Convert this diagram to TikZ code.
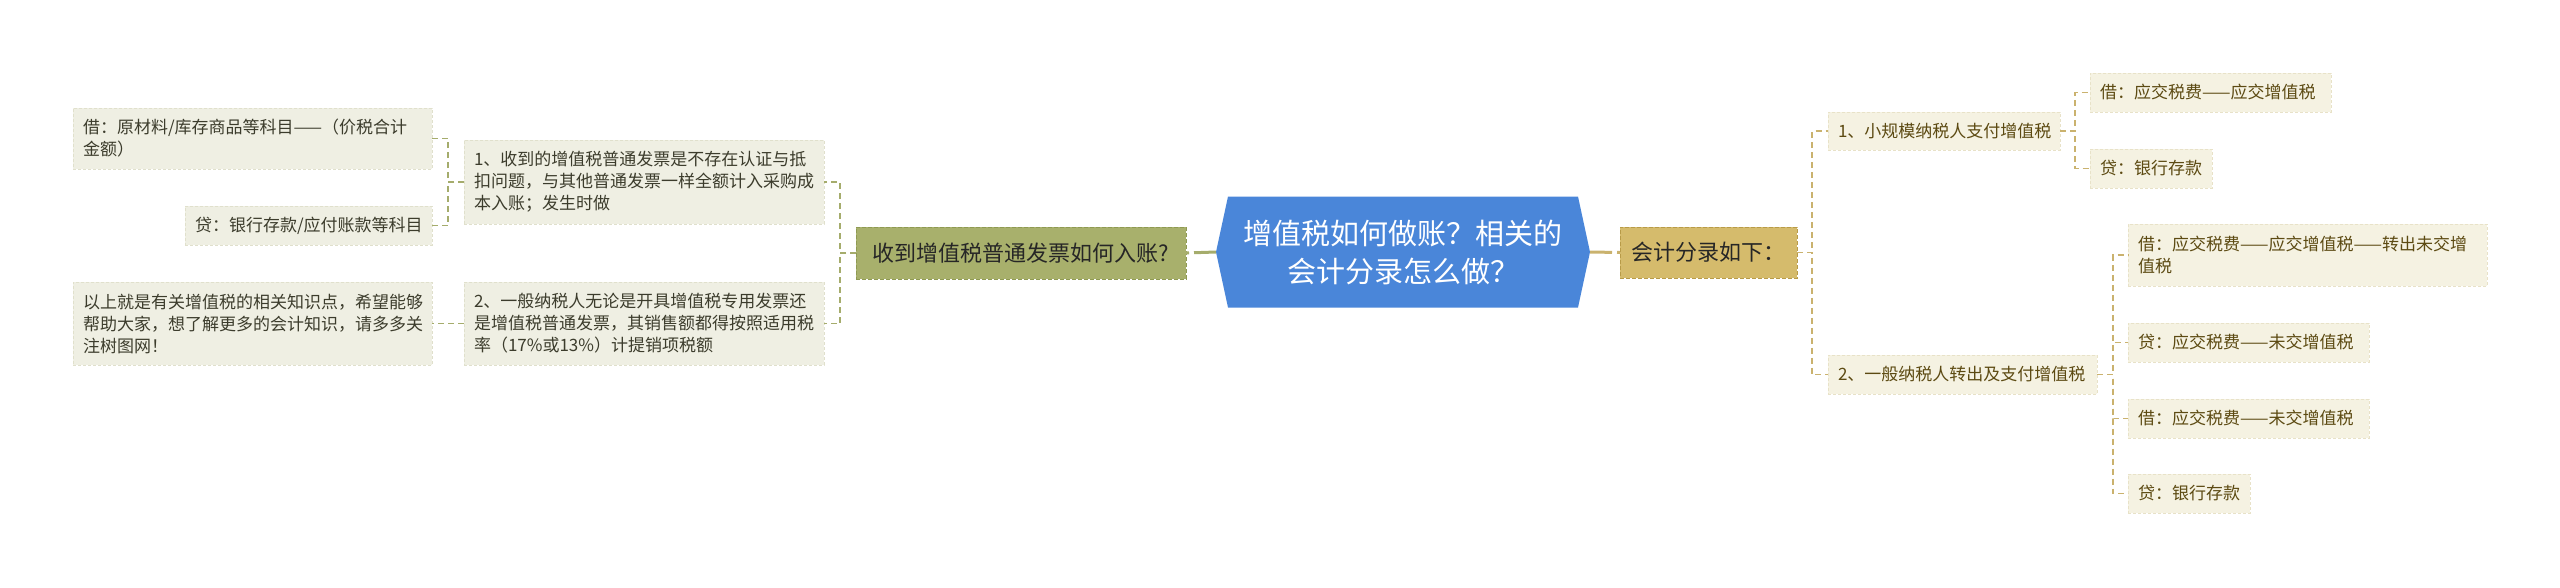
\documentclass[tikz,border=0pt]{standalone}
\usepackage{fontspec}
\setmainfont{Noto Sans CJK SC}
\usetikzlibrary{backgrounds}
\definecolor{cblue}{HTML}{4A86D9}
\definecolor{lmfill}{HTML}{A8B06C}
\definecolor{lmline}{HTML}{8F9A52}
\definecolor{rmfill}{HTML}{D5BB6C}
\definecolor{rmline}{HTML}{B89B48}
\definecolor{lfill}{HTML}{EFEFE3}
\definecolor{lline}{HTML}{E0E0CC}
\definecolor{ltext}{HTML}{3C3C2C}
\definecolor{rfill}{HTML}{F5F2E2}
\definecolor{rline}{HTML}{E8E2C8}
\definecolor{rtext}{HTML}{5C4A12}
\definecolor{connl}{HTML}{A5AC6C}
\definecolor{connr}{HTML}{CAB26E}
\tikzset{
  leafL/.style={fill=lfill, draw=lline, dash pattern=on 3pt off 2pt, line width=0.8pt,
    text=ltext, font=\fontsize{17}{22}\selectfont, align=left, inner xsep=10pt, inner ysep=0pt, outer sep=0pt},
  leafR/.style={fill=rfill, draw=rline, dash pattern=on 3pt off 2pt, line width=0.8pt,
    text=rtext, font=\fontsize{17}{22}\selectfont, align=left, inner xsep=10pt, inner ysep=0pt, outer sep=0pt},
  mainL/.style={fill=lmfill, draw=lmline, dash pattern=on 4pt off 2pt, line width=1pt,
    text=black!85, font=\fontsize{22}{28}\selectfont, inner xsep=10pt, inner ysep=0pt, outer sep=0pt},
  mainR/.style={fill=rmfill, draw=rmline, dash pattern=on 4pt off 2pt, line width=1pt,
    text=black!85, font=\fontsize{22}{28}\selectfont, inner xsep=10pt, inner ysep=0pt, outer sep=0pt},
  connL/.style={draw=connl, line width=1.3pt, dash pattern=on 6pt off 4pt},
  connR/.style={draw=connr, line width=1.3pt, dash pattern=on 6pt off 4pt},
  rootL/.style={draw=connl, line width=3pt, dash pattern=on 22pt off 5pt},
  rootR/.style={draw=connr, line width=3pt, dash pattern=on 22pt off 5pt},
}
\begin{document}
\begin{tikzpicture}[x=1pt,y=-1pt]
\useasboundingbox (0,0) rectangle (2560,587);
% center
\node[text=white, font=\fontsize{29}{38}\selectfont, align=center, minimum width=350pt, minimum height=111pt, inner sep=0pt, outer sep=0pt] (C) at (1403,252) {增值税如何做账？相关的\\会计分录怎么做？};
\coordinate (Cw) at ([xshift=-12pt]C.west);
\coordinate (Ce) at ([xshift=12pt]C.east);
\begin{scope}[on background layer]
\fill[cblue] (C.north west) -- (C.north east) -- (Ce) -- (C.south east) -- (C.south west) -- (Cw) -- cycle;
\end{scope}
% left main
\node[mainL, minimum width=330pt, minimum height=52pt] (LM) at (1021,253) {收到增值税普通发票如何入账?};
\node[leafL, text width=340pt, minimum height=84pt] (M1) at (644,182) {1、收到的增值税普通发票是不存在认证与抵\\扣问题，与其他普通发票一样全额计入采购成\\本入账；发生时做};
\node[leafL, text width=340pt, minimum height=83pt] (M2) at (644,323.5) {2、一般纳税人无论是开具增值税专用发票还\\是增值税普通发票，其销售额都得按照适用税\\率（17\%或13\%）计提销项税额};
\node[leafL, text width=339pt, minimum height=61pt] (L1a) at (252.5,138.5) {借：原材料/库存商品等科目——（价税合计\\金额）};
\node[leafL, text width=227pt, minimum height=39pt] (L1b) at (308.5,225.5) {\mbox{贷：银行存款/应付账款等科目}};
\node[leafL, text width=339pt, minimum height=83pt] (L2) at (252.5,323.5) {以上就是有关增值税的相关知识点，希望能够\\帮助大家，想了解更多的会计知识，请多多关\\注树图网！};
% right main
\node[mainR, minimum width=177pt, minimum height=51pt] (RM) at (1708.5,252.5) {会计分录如下：};
\node[leafR, text width=212pt, minimum height=38pt] (R1) at (1944,131) {\mbox{1、小规模纳税人支付增值税}};
\node[leafR, text width=249pt, minimum height=39pt] (R2) at (1962.5,374.5) {\mbox{2、一般纳税人转出及支付增值税}};
\node[leafR, text width=221pt, minimum height=39pt] (R1a) at (2210.5,92.5) {\mbox{借：应交税费——应交增值税}};
\node[leafR, text width=102pt, minimum height=39pt] (R1b) at (2151,168.5) {\mbox{贷：银行存款}};
\node[leafR, text width=339pt, minimum height=62pt] (R2a) at (2307.5,255) {借：应交税费——应交增值税——转出未交增\\值税};
\node[leafR, text width=221pt, minimum height=39pt] (R2b) at (2248.5,342.5) {\mbox{贷：应交税费——未交增值税}};
\node[leafR, text width=221pt, minimum height=39pt] (R2c) at (2248.5,418.5) {\mbox{借：应交税费——未交增值税}};
\node[leafR, text width=102pt, minimum height=39pt] (R2d) at (2189,493.5) {\mbox{贷：银行存款}};
% connectors
\draw[rootL] (Cw) -- (LM.east);
\draw[rootR] (Ce) -- (RM.west);
\draw[connL] (LM.west) -- ++(-16,0) |- (M1.east);
\draw[connL] (LM.west) -- ++(-16,0) |- (M2.east);
\draw[connL] (M1.west) -- ++(-16,0) |- (L1a.east);
\draw[connL] (M1.west) -- ++(-16,0) |- (L1b.east);
\draw[connL] (M2.west) -- (L2.east);
\draw[connR] (RM.east) -- ++(15,0) |- (R1.west);
\draw[connR] (RM.east) -- ++(15,0) |- (R2.west);
\draw[connR] (R1.east) -- ++(15,0) |- (R1a.west);
\draw[connR] (R1.east) -- ++(15,0) |- (R1b.west);
\draw[connR] (R2.east) -- ++(16,0) |- (R2a.west);
\draw[connR] (R2.east) -- ++(16,0) |- (R2b.west);
\draw[connR] (R2.east) -- ++(16,0) |- (R2c.west);
\draw[connR] (R2.east) -- ++(16,0) |- (R2d.west);
\end{tikzpicture}
\end{document}
